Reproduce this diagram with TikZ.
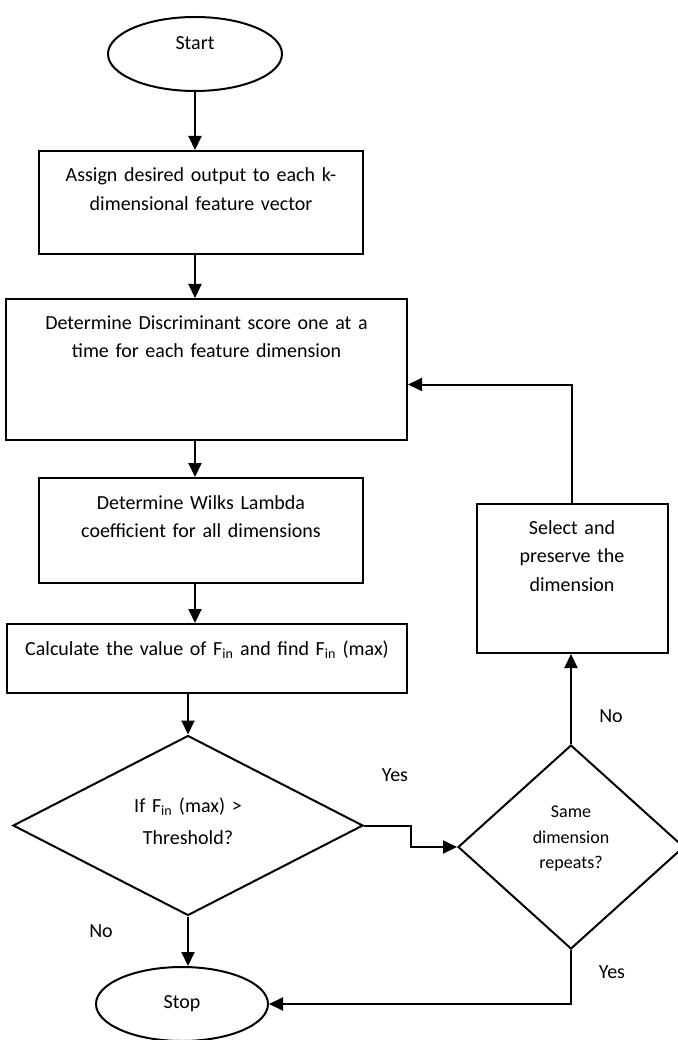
\documentclass[tikz,border=0pt]{standalone}
\usepackage{fontspec}
\setmainfont{Carlito}
\usetikzlibrary{shapes.geometric, arrows.meta}

\tikzset{
	flow/.style={draw=black, line width=2pt, align=center, inner sep=0pt, text height=14pt, font=\fontsize{20}{28.7}\selectfont},
	procbox/.style={flow, rectangle},
	termnode/.style={flow, ellipse, text width=100pt},
	decnode/.style={flow, diamond},
	arr/.style={line width=2pt, -{Triangle[length=14pt, width=13pt]}},
	lbl/.style={font=\fontsize{20}{24}\selectfont},
}

\begin{document}
\begin{tikzpicture}[x=1pt, y=-1pt]
	\useasboundingbox (0,0) rectangle (677,1040);

	\node[termnode, minimum width=174pt, minimum height=74pt, text depth=23pt] (start) at (195, 54) {Start};
	\node[procbox, text width=324pt, minimum height=103pt, text depth=55pt] (assign) at (201, 202.5) {Assign desired output to each k-\\dimensional feature vector};
	\node[procbox, text width=401pt, minimum height=141pt, text depth=95pt] (score) at (206.5, 369.5) {Determine Discriminant score one at a\\time for each feature dimension};
	\node[procbox, text width=324pt, minimum height=105pt, text depth=57pt] (wilks) at (201, 530.5) {Determine Wilks Lambda\\coefficient for all dimensions};
	\node[procbox, text width=400pt, minimum height=69pt, text depth=21pt] (fin) at (207, 658.5) {Calculate the value of F\textsubscript{in} and find F\textsubscript{in} (max)};
	\node[decnode, aspect=1.9, text width=190pt, minimum width=350pt, minimum height=180pt, text depth=41pt, font=\fontsize{20}{32}\selectfont] (thresh) at (188, 825.5) {If F\textsubscript{in} (max) >\\Threshold?};
	\node[decnode, aspect=1.1, text width=100pt, minimum width=226pt, minimum height=204pt, text depth=73pt, font=\fontsize{18}{25.6}\selectfont] (repeat) at (571, 847) {Same\\dimension\\repeats?};
	\node[procbox, text width=191pt, minimum height=149pt, text depth=103pt] (keep) at (572, 578.5) {Select and\\preserve the\\dimension};
	\node[termnode, minimum width=172pt, minimum height=74pt, text depth=5pt] (stop) at (182, 1004) {Stop};

	\node[lbl] (yes1) at (395, 775) {Yes};
	\node[lbl] (no1) at (101, 931) {No};
	\node[lbl] (no2) at (611, 716) {No};
	\node[lbl] (yes2) at (612, 972) {Yes};

	\draw[arr] (start) -- (start |- assign.north);
	\foreach \a/\b in {assign/score, score/wilks, wilks/fin}
	{
		\draw[arr] (\a.south -| start) -- (\b.north -| start);
	}
	\draw[arr] (fin.south -| thresh) -- (thresh.north);
	\draw[arr] (thresh.south) -- (thresh.south |- stop.north);
	\draw[arr] (thresh.east) -- ++(47,0) |- (repeat.west);
	\draw[arr] (repeat.north) -- (repeat.north |- keep.south);
	\draw[arr] (keep.north) |- ([yshift=-15pt]score.east);
	\draw[arr] (repeat.south) |- (stop.east);

\end{tikzpicture}
\end{document}
